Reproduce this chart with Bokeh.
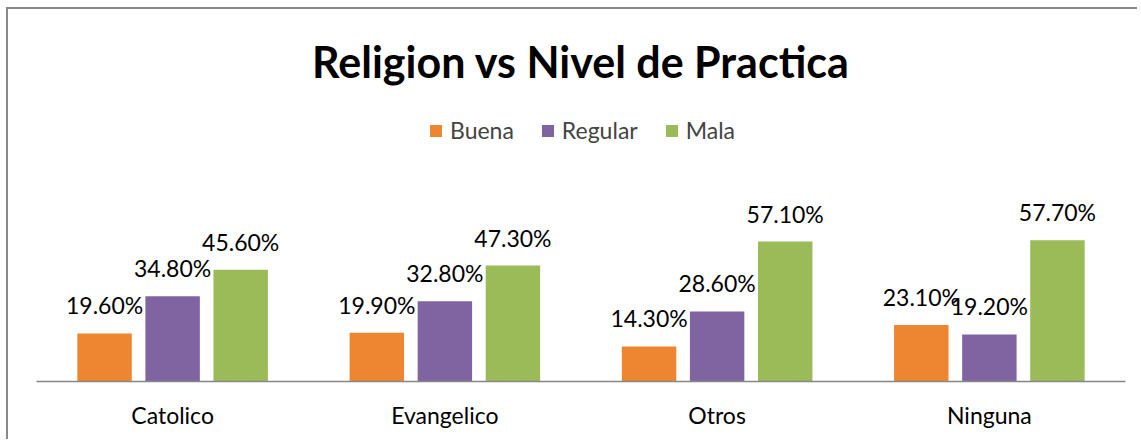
from bokeh.plotting import figure
from bokeh.models import ColumnDataSource, Range1d, Label, Legend, LegendItem, FactorRange
from bokeh.transform import dodge
from bokeh.core.properties import value
from bokeh.embed import file_html
from bokeh.resources import INLINE

# ---- data ----
categories = ["Catolico", "Evangelico", "Otros", "Ninguna"]
series_names = ["Buena", "Regular", "Mala"]
buena = [19.6, 19.9, 14.3, 23.1]
regular = [34.8, 32.8, 28.6, 19.2]
mala = [45.6, 47.3, 57.1, 57.7]
title_text = "Religion vs Nivel de Practica"

colors = ["#EE8631", "#8064A2", "#9BBB59"]
FONT = "Lato"

W, H = 1131, 432
PX_PER_UNIT = 2.45
frame_bottom = 372
y_top = frame_bottom / PX_PER_UNIT

src = ColumnDataSource(dict(
    cat=categories, Buena=buena, Regular=regular, Mala=mala,
    Buena_lbl=[f"{v:.2f}%" for v in buena],
    Regular_lbl=[f"{v:.2f}%" for v in regular],
    Mala_lbl=[f"{v:.2f}%" for v in mala],
))

p = figure(x_range=FactorRange(*categories, range_padding=0),
           y_range=Range1d(0, y_top),
           width=W, height=H, output_backend="svg", toolbar_location=None,
           min_border_left=28, min_border_right=14, min_border_top=0,
           min_border_bottom=H - frame_bottom)
p.title.visible = False
p.styles = {"border-left": "2px solid #898989", "border-top": "2px solid #898989",
            "margin-left": "6px", "margin-top": "7px"}
p.outline_line_color = None
p.xgrid.visible = False
p.ygrid.visible = False
p.yaxis.visible = False
p.background_fill_color = "white"
p.border_fill_color = "white"

xa = p.xaxis[0]
xa.axis_line_color = "#868686"
xa.axis_line_width = 1.5
xa.major_tick_line_color = None
xa.minor_tick_line_color = None
xa.major_tick_out = 0
xa.major_tick_in = 0
xa.major_label_standoff = 19
xa.major_label_text_font = FONT
xa.major_label_text_font_size = "23px"
xa.major_label_text_color = "black"

offsets = [-0.25, 0.0, 0.25]
renderers = []
for name, off, col in zip(series_names, offsets, colors):
    r = p.vbar(x=dodge("cat", off, range=p.x_range), top=name, bottom=0, width=0.2,
               source=src, fill_color=col, line_color=None)
    renderers.append(r)
    p.text(x=dodge("cat", off, range=p.x_range), y=name, text=name + "_lbl", source=src,
           text_align="center", text_baseline="alphabetic", y_offset=-28,
           text_font=value(FONT), text_font_size="23px", text_color="black")

legend = Legend(items=[LegendItem(label=n, renderers=[r]) for n, r in zip(series_names, renderers)],
                orientation="horizontal", location=(392, 237),
                glyph_width=15, glyph_height=15, label_standoff=7, spacing=26,
                padding=0, margin=0, border_line_color=None, background_fill_alpha=0,
                label_text_font=FONT, label_text_font_size="23px", label_height=26,
                label_text_baseline="middle")
p.add_layout(legend, "center")

title_y = (frame_bottom - 52) / PX_PER_UNIT
p.add_layout(Label(x=2, y=title_y, text=title_text, text_align="center",
                   text_baseline="alphabetic", text_font=FONT, text_font_size="43px",
                   text_font_style="bold", text_color="black"))

open("out.html", "w").write(file_html(p, INLINE))
